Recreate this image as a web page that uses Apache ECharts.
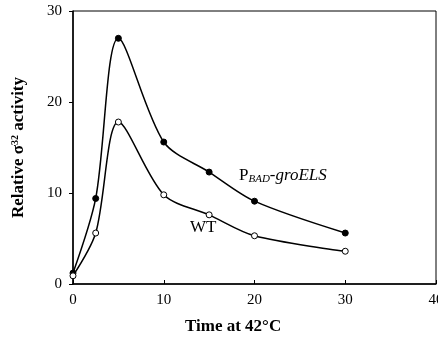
<!DOCTYPE html>
<html><head><meta charset="utf-8">
<script src="https://cdn.jsdelivr.net/npm/echarts@6/dist/echarts.min.js"></script>
<style>html,body{margin:0;padding:0;background:#fff}#c{width:438px;height:345px}</style>
</head><body><div id="c"></div>
<script>
const times = [0, 2.5, 5, 10, 15, 20, 30];
const groELS = [1.2, 9.4, 27.0, 15.6, 12.3, 9.1, 5.6];
const wt = [0.9, 5.6, 17.8, 9.8, 7.6, 5.3, 3.6];
const xTicks = [0, 10, 20, 30, 40];
const yTicks = [0, 10, 20, 30];

const F = 'Liberation Serif';
const chart = echarts.init(document.getElementById('c'));
chart.setOption({
  animation: false,
  backgroundColor: '#fff',
  grid: {left: 73, right: 2, top: 11, bottom: 61, show: true, borderColor: '#000', borderWidth: 1,
         containLabel: false, outerBoundsMode: 'none'},
  xAxis: {
    type: 'value', min: xTicks[0], max: xTicks[xTicks.length - 1], interval: 10,
    axisLine: {lineStyle: {color: '#000', width: 1.5}},
    axisTick: {inside: true, length: 4, lineStyle: {color: '#000'}},
    axisLabel: {color: '#000', fontFamily: F, fontSize: 15, margin: 9, hideOverlap: false},
    splitLine: {show: false}
  },
  yAxis: {
    type: 'value', min: yTicks[0], max: yTicks[yTicks.length - 1], interval: 10,
    axisLine: {show: true, lineStyle: {color: '#000', width: 1.5}},
    axisTick: {show: true, length: 4, lineStyle: {color: '#000'}},
    axisLabel: {color: '#000', fontFamily: F, fontSize: 15, margin: 11},
    splitLine: {show: false},
    name: '{n|Relative σ}{s|32}{n| activity}',
    nameLocation: 'middle', nameGap: 45, nameRotate: 90,
    nameTextStyle: {
      rich: {
        n: {fontFamily: F, fontSize: 17, fontWeight: 'bold', color: '#000'},
        s: {fontFamily: F, fontSize: 10, fontWeight: 'bold', color: '#000', verticalAlign: 'top', padding: [0,0,8,0]}
      }
    }
  },
  series: [
    {
      type: 'line', data: times.map((t, i) => [t, groELS[i]]), smooth: 0.3,
      symbol: 'circle', symbolSize: 6,
      lineStyle: {color: '#000', width: 1.5},
      itemStyle: {color: '#000', borderColor: '#000', borderWidth: 1}
    },
    {
      type: 'line', data: times.map((t, i) => [t, wt[i]]), smooth: 0.3,
      symbol: 'circle', symbolSize: 6,
      lineStyle: {color: '#000', width: 1.5},
      itemStyle: {color: '#fff', borderColor: '#000', borderWidth: 1}
    }
  ],
  graphic: [
    {type: 'text', left: 185, top: 318, style: {text: 'Time at 42°C', font: 'bold 17px "Liberation Serif"', fill: '#000'}},
    {type: 'text', left: 239, top: 167, style: {
      text: '{p|P}{b|BAD}{p|-}{g|groELS}',
      rich: {
        p: {fontFamily: F, fontSize: 17, color: '#000'},
        b: {fontFamily: F, fontSize: 11, fontStyle: 'italic', color: '#000', padding: [8,0,0,0]},
        g: {fontFamily: F, fontSize: 17, fontStyle: 'italic', color: '#000'}
      }
    }},
    {type: 'text', left: 190, top: 219, style: {text: 'WT', font: '17px "Liberation Serif"', fill: '#000'}}
  ]
});
</script></body></html>
